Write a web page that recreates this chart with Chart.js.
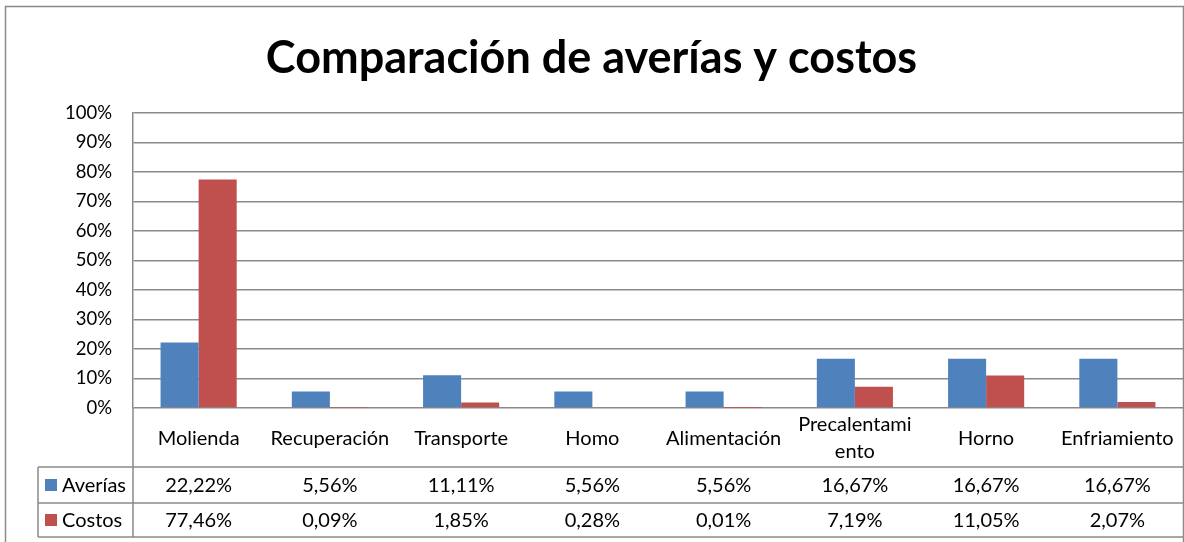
<!DOCTYPE html>
<html>
<head>
<meta charset="utf-8">
<script src="https://cdn.jsdelivr.net/npm/chart.js@4"></script>
<style>
  body { margin: 0; background: #fff; }
  #wrap { width: 1184px; height: 542px; }
</style>
</head>
<body>
<div id="wrap"><canvas id="bar-chart"></canvas></div>
<script>
const categories = ['Molienda', 'Recuperación', 'Transporte', 'Homo', 'Alimentación', ['Precalentami', 'ento'], 'Horno', 'Enfriamiento'];
const averias = [22.22, 5.56, 11.11, 5.56, 5.56, 16.67, 16.67, 16.67];
const costos = [77.46, 0.09, 1.85, 0.28, 0.01, 7.19, 11.05, 2.07];
const seriesNames = ['Averías', 'Costos'];
const seriesColors = ['#4F81BD', '#C0504D'];

const FONT = 'Lato';
const LINE = '#8a8a8a';

const pct = (v) => v.toFixed(2).replace('.', ',') + '%';

// frame + data table under the x axis (Excel style)
const dataTable = {
  id: 'dataTable',
  beforeDraw(chart) {
    const { ctx, width, height } = chart;
    ctx.save();
    ctx.fillStyle = '#fff';
    ctx.fillRect(0, 0, width, height);
    ctx.strokeStyle = LINE;
    ctx.lineWidth = 1.5;
    ctx.beginPath();
    ctx.moveTo(5.5, height + 2);
    ctx.lineTo(5.5, 6.5);
    ctx.lineTo(1183.5, 6.5);
    ctx.lineTo(1183.5, height + 2);
    ctx.stroke();
    ctx.restore();
  },
  afterDraw(chart) {
    const { ctx, chartArea } = chart;
    const x = chart.scales.x;
    const rows = [averias, costos];
    const lines = [chartArea.bottom + 59, chartArea.bottom + 95, chartArea.bottom + 129];
    const tableLeft = 38;

    ctx.save();
    ctx.strokeStyle = LINE;
    ctx.lineWidth = 1.5;
    ctx.beginPath();
    lines.forEach((y) => {
      ctx.moveTo(tableLeft, y);
      ctx.lineTo(chartArea.right, y);
    });
    ctx.moveTo(tableLeft, lines[0]);
    ctx.lineTo(tableLeft, lines[2]);
    ctx.moveTo(chartArea.left, chartArea.bottom);
    ctx.lineTo(chartArea.left, lines[2]);
    ctx.stroke();

    ctx.font = '20px ' + FONT;
    ctx.textBaseline = 'middle';
    rows.forEach((vals, r) => {
      const yc = (lines[r] + lines[r + 1]) / 2 + 1;
      ctx.fillStyle = seriesColors[r];
      ctx.fillRect(45, yc - 7, 12, 12);
      ctx.fillStyle = '#000';
      ctx.textAlign = 'left';
      ctx.fillText(seriesNames[r], 62, yc);
      ctx.textAlign = 'center';
      vals.forEach((v, i) => ctx.fillText(pct(v), x.getPixelForValue(i), yc));
    });
    ctx.restore();
  },
};

new Chart(document.getElementById('bar-chart'), {
  type: 'bar',
  data: {
    labels: categories,
    datasets: [
      { label: seriesNames[0], data: averias, backgroundColor: seriesColors[0] },
      { label: seriesNames[1], data: costos, backgroundColor: seriesColors[1] },
    ],
  },
  options: {
    responsive: true,
    maintainAspectRatio: false,
    animation: false,
    layout: { padding: { left: 0, right: 1, top: 0, bottom: 0 } },
    datasets: { bar: { categoryPercentage: 0.58, barPercentage: 1 } },
    plugins: {
      legend: { display: false },
      tooltip: { enabled: false },
      title: {
        display: true,
        text: 'Comparación de averías y costos',
        color: '#000',
        font: { family: FONT, size: 45, weight: 'bold' },
        padding: { top: 31, bottom: 28 },
      },
    },
    scales: {
      x: {
        grid: { display: false },
        border: { display: false },
        ticks: {
          color: '#000',
          font: { family: FONT, size: 20, lineHeight: 1.35 },
          maxRotation: 0,
          autoSkip: false,
          crossAlign: 'center',
          padding: 9,
        },
        afterFit: (scale) => { scale.height = 134; },
      },
      y: {
        min: 0,
        max: 100,
        grid: { color: LINE, lineWidth: 1.5, drawTicks: false },
        border: { display: true, color: LINE, width: 1.5 },
        ticks: {
          stepSize: 10,
          color: '#000',
          font: { family: FONT, size: 18.5 },
          padding: 21,
          callback: (v) => v + '%',
        },
        afterFit: (scale) => { scale.width = 133; },
      },
    },
  },
  plugins: [dataTable],
});
</script>
</body>
</html>
